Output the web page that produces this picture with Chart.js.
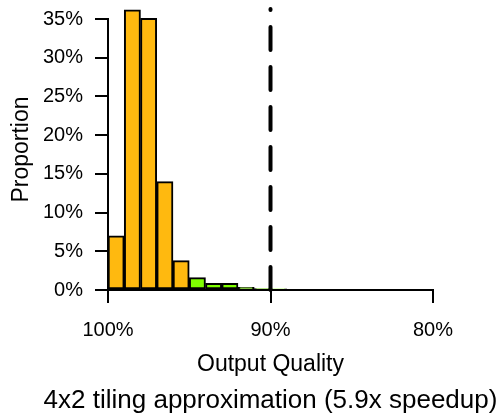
<!DOCTYPE html>
<html>
<head>
<meta charset="utf-8">
<script src="https://cdn.jsdelivr.net/npm/chart.js@4.4.1/dist/chart.umd.min.js"></script>
<style>
  html, body { margin: 0; padding: 0; background: #fff; }
</style>
</head>
<body>
<canvas id="myChart" width="503" height="419"></canvas>
<script>
// histogram bins: each bin covers [start, start - 1] % quality
const binStarts = [100, 99, 98, 97, 96, 95, 94, 93, 92, 91, 90];
const proportions = [7.0, 36.2, 35.1, 14.0, 3.8, 1.6, 0.85, 0.85, 0.35, 0.17, 0.15];
const xTicks = [100, 90, 80];
const yTicks = [0, 5, 10, 15, 20, 25, 30, 35];
const targetQuality = 90;
const subtitle = '4x2 tiling approximation (5.9x speedup)';

const fontFamily = "'Liberation Sans', Arial, sans-serif";
Chart.defaults.font.family = fontFamily;
Chart.defaults.color = '#000';

const orange = '#FFB90F',
    green = '#7FFF00';

const axisLines = {
    id: 'axisLines',
    afterDatasetsDraw(chart) {
        const ctx = chart.ctx, x = chart.scales.x, y = chart.scales.y;
        const area = chart.chartArea;
        ctx.save();
        ctx.strokeStyle = '#000';
        ctx.lineWidth = 2;
        ctx.lineCap = 'square';
        ctx.beginPath();
        ctx.moveTo(area.left, y.getPixelForValue(yTicks[0]));
        ctx.lineTo(area.left, y.getPixelForValue(yTicks[yTicks.length - 1]));
        ctx.moveTo(x.getPixelForValue(xTicks[0]), area.bottom);
        ctx.lineTo(x.getPixelForValue(xTicks[xTicks.length - 1]), area.bottom);
        ctx.stroke();

        // dashed target line
        const px = x.getPixelForValue(targetQuality);
        ctx.lineWidth = 4;
        ctx.lineCap = 'round';
        ctx.setLineDash([23, 17]);
        ctx.beginPath();
        ctx.moveTo(px, area.bottom);
        ctx.lineTo(px, area.top);
        ctx.stroke();
        ctx.restore();
    },
    afterDraw(chart) {
        const ctx = chart.ctx, area = chart.chartArea;
        ctx.save();
        ctx.fillStyle = '#000';
        ctx.font = '26px ' + fontFamily;
        ctx.textAlign = 'center';
        ctx.textBaseline = 'middle';
        ctx.fillText(subtitle, (area.left + area.right) / 2, 401);
        ctx.restore();
    }
};

const config = {
    type: 'bar',
    data: {
        datasets: [{
            data: binStarts.map((s, i) => ({ x: s - 0.5, y: proportions[i] })),
            backgroundColor: binStarts.map(s => s > 95 ? orange : green),
            borderColor: '#000',
            borderWidth: 2,
            borderSkipped: false,
            barPercentage: 1,
            categoryPercentage: 1
        }]
    },
    options: {
        responsive: false,
        animation: false,
        layout: {
            padding: { left: 0, right: 70, top: 9, bottom: 40.2 }
        },
        scales: {
            x: {
                type: 'linear',
                reverse: true,
                offset: false,
                min: 80,
                max: 100,
                afterBuildTicks: axis => { axis.ticks = xTicks.map(v => ({ value: v })); },
                afterFit: axis => { axis.height = 88.8; },
                border: { display: false },
                grid: {
                    offset: false,
                    drawOnChartArea: false,
                    color: '#000',
                    lineWidth: 2,
                    tickLength: 13
                },
                ticks: {
                    padding: 15,
                    font: { size: 20 },
                    maxRotation: 0,
                    callback: v => v + '%'
                },
                title: {
                    display: true,
                    text: 'Output Quality',
                    font: { size: 23 },
                    padding: { top: 0, bottom: 0 }
                }
            },
            y: {
                min: 0,
                max: 36.3,
                afterBuildTicks: axis => { axis.ticks = yTicks.map(v => ({ value: v })); },
                afterFit: axis => {
                    axis.width = 108;
                    axis.paddingTop = 0;
                    axis.paddingBottom = 0;
                },
                border: { display: false },
                grid: {
                    drawOnChartArea: false,
                    color: '#000',
                    lineWidth: 2,
                    tickLength: 13
                },
                ticks: {
                    padding: 12,
                    font: { size: 20 },
                    callback: v => v + '%'
                },
                title: {
                    display: true,
                    text: 'Proportion',
                    font: { size: 23 },
                    padding: { top: 8.2, bottom: 0 }
                }
            }
        },
        plugins: {
            legend: { display: false },
            tooltip: { enabled: false }
        }
    },
    plugins: [axisLines]
};

const myChart = new Chart(document.getElementById('myChart'), config);
</script>
</body>
</html>
